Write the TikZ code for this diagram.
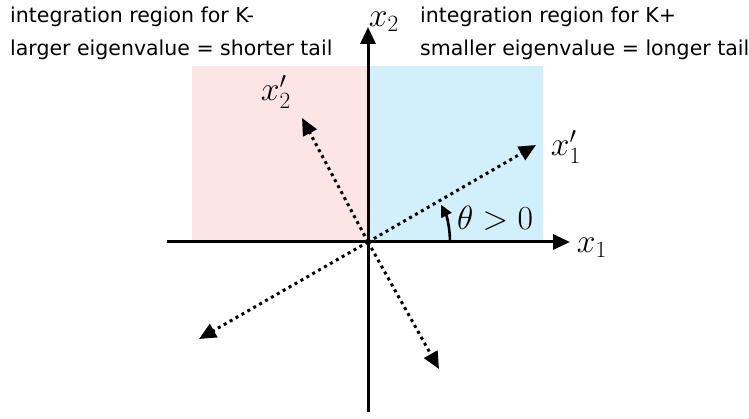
\documentclass[tikz,border=0pt]{standalone}
\usepackage{fontspec}
\setmainfont{DejaVu Sans}
\usetikzlibrary{arrows.meta}
\definecolor{pinkbg}{RGB}{253,229,229}
\definecolor{bluebg}{RGB}{210,240,251}
\tikzset{
  axis/.style={line width=3pt,-{Triangle[length=17pt,width=15pt]}},
  rot/.style={line width=3pt,dash pattern=on 3pt off 3.8pt,-{Triangle[length=17pt,width=15pt]}},
  txt/.style={font=\fontsize{20.5}{24}\selectfont,anchor=base west,inner sep=0pt},
  lab/.style={font=\fontsize{24}{26}\selectfont,inner sep=0pt,scale=1.35}
}
\begin{document}
\begin{tikzpicture}[x=1pt,y=1pt]
\path[use as bounding box] (0,0) rectangle (749,-419);
\fill[pinkbg] (192,-66) rectangle (368,-242);
\fill[bluebg] (368,-66) rectangle (543,-242);
\coordinate (O) at (368,-242);
\coordinate (xl) at (167,-242);
\coordinate (xr) at (570,-242);
\coordinate (yb) at (368,-412);
\coordinate (yt) at (368,-27);
\coordinate (p1) at (536,-145);
\coordinate (p2) at (302,-118);
\coordinate (m1) at (199,-339);
\coordinate (m2) at (439,-369);
\draw[line width=3pt] (xl) -- (O);
\draw[axis] (O) -- (xr);
\draw[line width=3pt] (yb) -- (O);
\draw[axis] (O) -- (yt);
\draw[rot] (O) -- (p1);
\draw[rot] (O) -- (p2);
\draw[rot] (O) -- (m1);
\draw[rot] (O) -- (m2);
\draw[line width=2.6pt,-{Triangle[length=12pt,width=11pt]}] (450,-242) arc[start angle=0,end angle=27,radius=82pt];
\node[lab] (lx1) at (592,-248) {$x_1$};
\node[lab] (lx2) at (384,-22) {$x_2$};
\node[lab] (lp1) at (566,-147) {$x_1'$};
\node[lab] (lp2) at (276,-92) {$x_2'$};
\node[lab] (lth) at (495,-218) {$\theta > 0$};
\node[txt] (t1) at (10,-23) {integration region for K-};
\node[txt] (t2) at (10,-56) {larger eigenvalue = shorter tail};
\node[txt] (t3) at (420,-23) {integration region for K+};
\node[txt] (t4) at (420,-56) {smaller eigenvalue = longer tail};
\end{tikzpicture}
\end{document}
